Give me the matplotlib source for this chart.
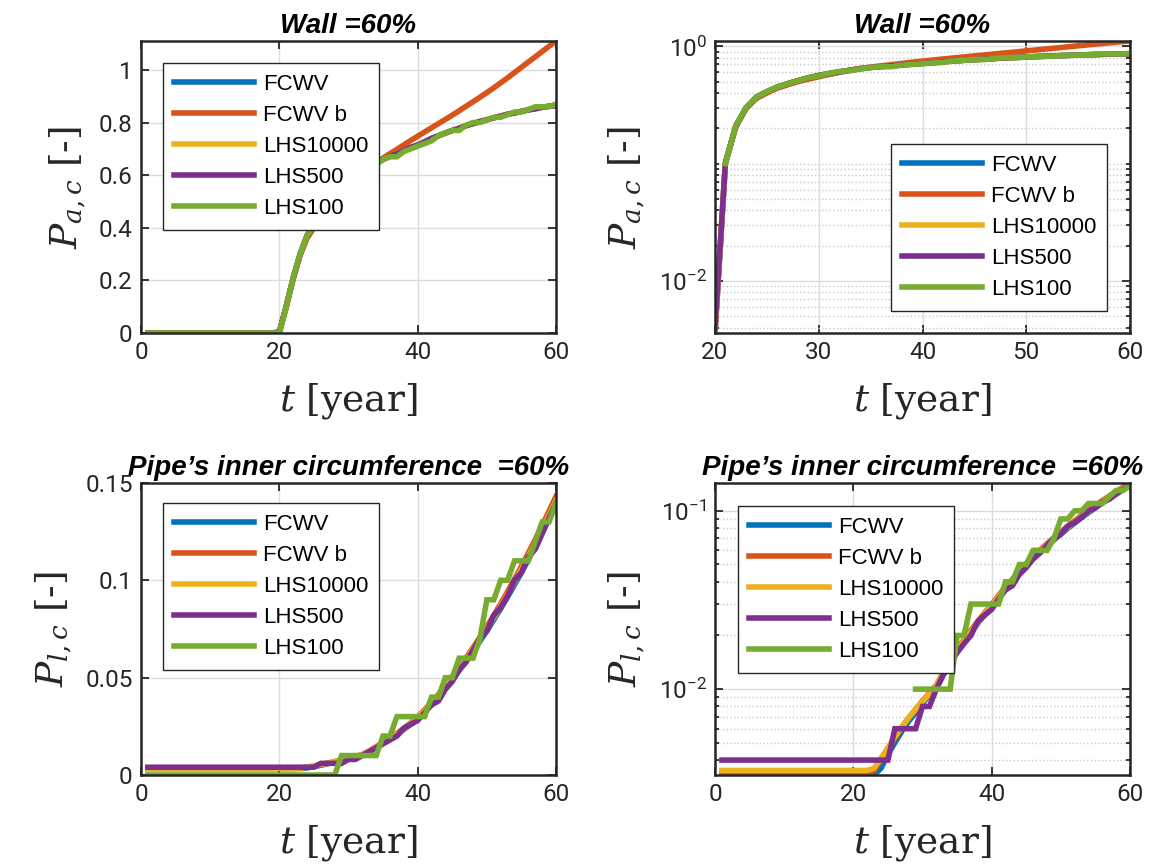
"""
Failure probability over time: wall vs pipe inner circumference (60%),
FCWV against LHS sampling, linear and log axes.
"""

import numpy as np
import matplotlib
matplotlib.use("Agg")
import matplotlib.pyplot as plt
from matplotlib.ticker import LogLocator, NullFormatter, FormatStrFormatter

plt.rcParams['font.family'] = ['Roboto', 'DejaVu Sans']
plt.rcParams['mathtext.fontset'] = 'dejavuserif'

YEARS = np.arange(1, 61)
SERIES = ["FCWV", "FCWV b", "LHS10000", "LHS500", "LHS100"]
COLORS = ["#0072BD", "#D95319", "#EDB120", "#7E2F8E", "#77AC30"]

# Wall = 60%  (years 1..60)
WALL_FCWV = [0.0] * 19 + [
    0.0036, 0.10, 0.21, 0.30, 0.37, 0.41, 0.45, 0.48, 0.51, 0.54,
    0.565, 0.585, 0.605, 0.625, 0.645, 0.66, 0.672, 0.683, 0.694, 0.705,
    0.715, 0.727, 0.739, 0.75, 0.76, 0.77, 0.779, 0.788, 0.796, 0.804,
    0.811, 0.818, 0.825, 0.831, 0.837, 0.843, 0.848, 0.853, 0.858, 0.862,
    0.866]
WALL_FCWV_B = [0.0] * 19 + [
    0.0036, 0.10, 0.205, 0.295, 0.36, 0.40, 0.44, 0.47, 0.50, 0.525,
    0.55, 0.575, 0.60, 0.625, 0.648, 0.665, 0.682, 0.698, 0.715, 0.732,
    0.748, 0.764, 0.78, 0.796, 0.812, 0.828, 0.845, 0.862, 0.879, 0.896,
    0.914, 0.932, 0.951, 0.97, 0.99, 1.01, 1.03, 1.05, 1.07, 1.09,
    1.11]
WALL_LHS10000 = [0.0] * 19 + [
    0.0039, 0.1001, 0.2093, 0.2996, 0.3702, 0.4101, 0.4497, 0.4802, 0.5098, 0.5403,
    0.5648, 0.5852, 0.6049, 0.6251, 0.6447, 0.6601, 0.6718, 0.6832, 0.6941, 0.7049,
    0.7152, 0.7268, 0.7391, 0.7497, 0.7603, 0.7698, 0.7792, 0.7881, 0.7963, 0.8038,
    0.8112, 0.8181, 0.8248, 0.8312, 0.8371, 0.8428, 0.8481, 0.8532, 0.8579, 0.8622,
    0.8663]
WALL_LHS500 = [0.0] * 19 + [
    0.004, 0.102, 0.208, 0.298, 0.37, 0.41, 0.448, 0.48, 0.51, 0.538,
    0.564, 0.586, 0.604, 0.626, 0.644, 0.66, 0.672, 0.682, 0.694, 0.706,
    0.714, 0.726, 0.74, 0.75, 0.76, 0.77, 0.778, 0.788, 0.796, 0.804,
    0.81, 0.818, 0.824, 0.832, 0.836, 0.842, 0.848, 0.852, 0.858, 0.862,
    0.864]
WALL_LHS100 = [0.0] * 20 + [
    0.10, 0.21, 0.30, 0.37, 0.41, 0.45, 0.48, 0.51, 0.54, 0.56,
    0.59, 0.61, 0.62, 0.64, 0.66, 0.67, 0.67, 0.69, 0.70, 0.71,
    0.72, 0.73, 0.75, 0.76, 0.77, 0.77, 0.79, 0.80, 0.80, 0.81,
    0.82, 0.82, 0.83, 0.84, 0.84, 0.85, 0.86, 0.86, 0.86, 0.87]

# Pipe's inner circumference = 60%  (years 1..60)
PIPE_FCWV = [0.0033] * 23 + [
    0.0036, 0.0043, 0.0050, 0.0058, 0.0066, 0.0074, 0.0083, 0.0093, 0.0103, 0.0121,
    0.0142, 0.0163, 0.0185, 0.0209, 0.0234, 0.0261, 0.0290, 0.0325, 0.0362, 0.0402,
    0.0445, 0.0490, 0.0537, 0.0585, 0.0635, 0.0687, 0.0740, 0.0797, 0.0855, 0.0915,
    0.0977, 0.1040, 0.1106, 0.1174, 0.1244, 0.1315, 0.1385]
PIPE_FCWV_B = [0.0034] * 22 + [
    0.0035, 0.0040, 0.0046, 0.0053, 0.0061, 0.0069, 0.0077, 0.0086, 0.0095, 0.0105,
    0.0124, 0.0146, 0.0167, 0.0190, 0.0214, 0.0240, 0.0268, 0.0298, 0.0335, 0.0373,
    0.0414, 0.0458, 0.0504, 0.0552, 0.0602, 0.0654, 0.0707, 0.0762, 0.0820, 0.0880,
    0.0942, 0.1006, 0.1072, 0.1140, 0.1210, 0.1282, 0.1356, 0.1432]
PIPE_LHS10000 = [0.0035] * 22 + [
    0.0036, 0.0041, 0.0047, 0.0054, 0.0061, 0.0069, 0.0077, 0.0085, 0.0094, 0.0104,
    0.0123, 0.0144, 0.0165, 0.0187, 0.0210, 0.0236, 0.0264, 0.0294, 0.0330, 0.0368,
    0.0408, 0.0451, 0.0497, 0.0545, 0.0594, 0.0645, 0.0697, 0.0751, 0.0808, 0.0867,
    0.0928, 0.0991, 0.1056, 0.1123, 0.1192, 0.1263, 0.1336, 0.1410]
PIPE_LHS500 = [0.004] * 25 + [
    0.006, 0.006, 0.006, 0.006, 0.008, 0.008, 0.010, 0.012, 0.014, 0.016,
    0.018, 0.020, 0.024, 0.026, 0.028, 0.032, 0.036, 0.038, 0.044, 0.048,
    0.054, 0.058, 0.064, 0.070, 0.074, 0.082, 0.086, 0.092, 0.100, 0.104,
    0.112, 0.116, 0.124, 0.132, 0.140]
PIPE_LHS100 = [0.0] * 28 + [0.01] * 6 + [
    0.02, 0.02, 0.03, 0.03, 0.03, 0.03, 0.03, 0.04, 0.04, 0.05,
    0.05, 0.06, 0.06, 0.06, 0.07, 0.09, 0.09, 0.10, 0.10, 0.11,
    0.11, 0.11, 0.12, 0.13, 0.13, 0.14]

WALL = [WALL_FCWV, WALL_FCWV_B, WALL_LHS10000, WALL_LHS500, WALL_LHS100]
PIPE = [PIPE_FCWV, PIPE_FCWV_B, PIPE_LHS10000, PIPE_LHS500, PIPE_LHS100]

AX_W, AX_H = 415 / 1155, 292 / 864
LEFT_COL, RIGHT_COL = 141 / 1155, 715 / 1155
TOP_ROW, BOT_ROW = 1 - 333 / 864, 1 - 775 / 864


def draw_panel(fig, rect, data, title, ylabel, log, xlim, ylim, legend_kw):
    ax = fig.add_axes(rect)
    for vals, name, col in zip(data, SERIES, COLORS):
        y = np.asarray(vals, dtype=float)
        if log:
            y = np.where(y > 0, y, np.nan)
        ax.plot(YEARS, y, color=col, lw=4, label=name, solid_joinstyle='miter')
    if log:
        ax.set_yscale('log')
        ax.yaxis.set_minor_locator(LogLocator(base=10, subs=np.arange(1, 10), numticks=20))
        ax.yaxis.set_minor_formatter(NullFormatter())
        ax.grid(True, which='minor', color='#c8c8c8', ls=':', lw=1)
    else:
        ax.yaxis.set_major_formatter(FormatStrFormatter('%g'))
    ax.grid(True, which='major', color='#dcdcdc', ls='-', lw=1)
    ax.set_axisbelow(True)
    ax.set_xlim(*xlim)
    ax.set_ylim(*ylim)
    ax.tick_params(which='both', direction='in', top=True, right=True,
                   labelsize=17.5, colors='#262626', width=1.3)
    ax.tick_params(which='major', length=6, pad=6)
    ax.tick_params(which='minor', length=3)
    for s in ax.spines.values():
        s.set_linewidth(1.8)
        s.set_color('#262626')
    ax.set_title(title, fontsize=20, fontweight='bold', fontstyle='italic',
                 family='Liberation Sans', pad=6)
    ax.set_xlabel(r'$t$ [year]', fontsize=27, family='DejaVu Serif', labelpad=12,
                  color='#262626')
    ax.set_ylabel(ylabel, fontsize=27, family='DejaVu Serif', labelpad=8,
                  color='#262626')
    leg = ax.legend(prop={'family': 'Liberation Sans', 'size': 16}, handlelength=3.6,
                    handletextpad=0.4, labelspacing=0.45, borderpad=0.5,
                    borderaxespad=0, fancybox=False, framealpha=1,
                    edgecolor='#262626', **legend_kw)
    leg.get_frame().set_linewidth(1.0)
    return ax


def main():
    fig = plt.figure(figsize=(11.55, 8.64), dpi=100)
    pa = r'$P_{a,c}$ [-]'
    pl = r'$P_{l,c}$ [-]'
    wall_t = 'Wall =60%'
    pipe_t = 'Pipe\u2019s inner circumference  =60%'

    ax = draw_panel(fig, [LEFT_COL, TOP_ROW, AX_W, AX_H], WALL, wall_t, pa, False,
                    (0, 60), (0, max(WALL_FCWV_B)),
                    dict(loc='upper left', bbox_to_anchor=(0.053, 0.925)))
    ax.set_xticks([0, 20, 40, 60])
    ax = draw_panel(fig, [RIGHT_COL, TOP_ROW, AX_W, AX_H], WALL, wall_t, pa, True,
                    (20, 60), (min(WALL_FCWV[19:]), max(WALL_FCWV_B)),
                    dict(loc='lower right', bbox_to_anchor=(0.945, 0.076)))
    ax.set_xticks([20, 30, 40, 50, 60])
    ax.set_yticks([1e-2, 1e0])
    ax = draw_panel(fig, [LEFT_COL, BOT_ROW, AX_W, AX_H], PIPE, pipe_t, pl, False,
                    (0, 60), (0, 0.15),
                    dict(loc='upper left', bbox_to_anchor=(0.053, 0.931)))
    ax.set_xticks([0, 20, 40, 60])
    ax.set_yticks([0, 0.05, 0.1, 0.15])
    ax = draw_panel(fig, [RIGHT_COL, BOT_ROW, AX_W, AX_H], PIPE, pipe_t, pl, True,
                    (0, 60), (min(PIPE_FCWV), max(PIPE_FCWV_B)),
                    dict(loc='upper left', bbox_to_anchor=(0.055, 0.921)))
    ax.set_xticks([0, 20, 40, 60])
    ax.set_yticks([1e-2, 1e-1])

    fig.savefig('out.png', dpi=100, facecolor='white')
    plt.close(fig)


if __name__ == "__main__":
    main()
